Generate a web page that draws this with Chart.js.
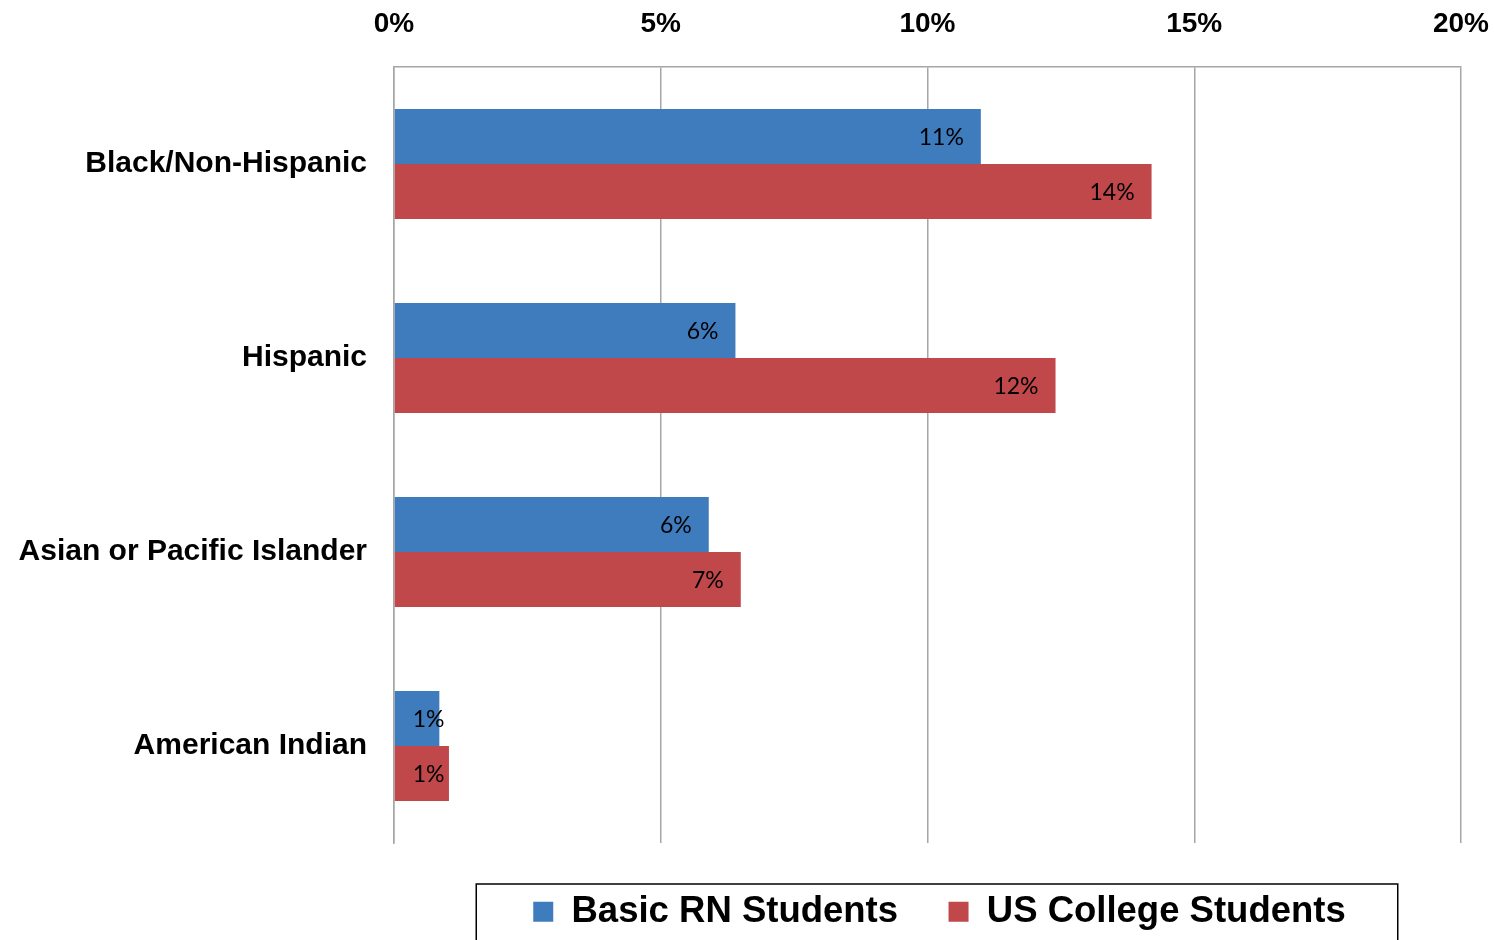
<!DOCTYPE html>
<html>
<head>
<meta charset="utf-8">
<script src="https://cdn.jsdelivr.net/npm/chart.js@4"></script>
<style>
  html, body { margin: 0; padding: 0; background: #ffffff; }
  #wrap { width: 1495px; height: 940px; position: relative; }
</style>
</head>
<body>
<div id="wrap"><canvas id="c" width="1495" height="940"></canvas></div>
<script>
const categories = ['Black/Non-Hispanic', 'Hispanic', 'Asian or Pacific Islander', 'American Indian'];
const basicRN = [11.0, 6.4, 5.9, 0.85];
const usCollege = [14.2, 12.4, 6.5, 1.03];
const seriesNames = ['Basic RN Students', 'US College Students'];
const xTicks = [0, 5, 10, 15, 20];

const BLUE = '#3F7CBE';
const RED = '#C0474A';
const GRID = '#a6a6a6';

const valueLabels = {
  id: 'valueLabels',
  afterDatasetsDraw(chart) {
    const ctx = chart.ctx;
    ctx.save();
    ctx.font = '23px Lato, "Open Sans", sans-serif';
    ctx.fillStyle = '#000';
    ctx.textBaseline = 'middle';
    ctx.textAlign = 'left';
    chart.data.datasets.forEach((ds, di) => {
      const meta = chart.getDatasetMeta(di);
      meta.data.forEach((bar, i) => {
        const txt = Math.round(ds.data[i]) + '%';
        const w = ctx.measureText(txt).width;
        const tx = Math.max(bar.x - 17 - w, bar.base + 18);
        ctx.fillText(txt, tx, bar.y + 1.5);
      });
    });
    ctx.restore();
  }
};

const legendShift = {
  id: 'legendShift',
  afterLayout(chart) {
    const lg = chart.legend;
    if (!lg) return;
    lg.left += 12;
    lg.right += 12;
  }
};

const legendBorder = {
  id: 'legendBorder',
  afterDraw(chart) {
    const lg = chart.legend;
    if (!lg || !lg.legendHitBoxes || !lg.legendHitBoxes.length) return;
    const hb = lg.legendHitBoxes;
    const first = hb[0], last = hb[hb.length - 1];
    const left = first.left - 57;
    const right = last.left + last.width + 52;
    const top = lg.top + 41;
    const ctx = chart.ctx;
    ctx.save();
    ctx.strokeStyle = '#000';
    ctx.lineWidth = 1.5;
    ctx.strokeRect(left, top, right - left, 200);
    ctx.restore();
  }
};

new Chart(document.getElementById('c'), {
  type: 'bar',
  data: {
    labels: categories,
    datasets: [
      { label: seriesNames[0], data: basicRN, backgroundColor: BLUE, borderWidth: 0 },
      { label: seriesNames[1], data: usCollege, backgroundColor: RED, borderWidth: 0 }
    ]
  },
  options: {
    indexAxis: 'y',
    responsive: false,
    animation: false,
    devicePixelRatio: 1,
    categoryPercentage: 0.567,
    barPercentage: 1.0,
    layout: { padding: { top: 8, right: 34, bottom: 0, left: 0 } },
    scales: {
      x: {
        position: 'top',
        min: 0,
        max: 20,
        afterBuildTicks(scale) { scale.ticks = xTicks.map(v => ({ value: v })); },
        afterFit(scale) {
          scale.height = 59;
          scale.paddingLeft = 0;
          scale.paddingRight = 0;
        },
        ticks: {
          callback: v => v + '%',
          color: '#000',
          font: { family: '"Liberation Sans", Arial, sans-serif', size: 28, weight: 'bold' },
          padding: 26,
          maxRotation: 0
        },
        grid: { color: GRID, lineWidth: 1.5, drawTicks: false },
        border: { display: true, color: GRID, width: 1.5 }
      },
      y: {
        afterFit(scale) {
          scale.width = 394;
          scale.paddingTop = 0;
          scale.paddingBottom = 0;
        },
        ticks: {
          color: '#000',
          font: { family: '"Liberation Sans", Arial, sans-serif', size: 30, weight: 'bold' },
          padding: 27
        },
        grid: { display: false, drawTicks: false },
        border: { display: true, color: GRID, width: 1.5 }
      }
    },
    plugins: {
      legend: {
        position: 'bottom',
        fullSize: false,
        labels: {
          boxWidth: 20,
          boxHeight: 20,
          padding: 50.5,
          color: '#000',
          font: { family: '"Liberation Sans", Arial, sans-serif', size: 36.5, weight: 'bold' }
        }
      },
      tooltip: { enabled: false }
    }
  },
  plugins: [valueLabels, legendShift, legendBorder]
});
</script>
</body>
</html>
